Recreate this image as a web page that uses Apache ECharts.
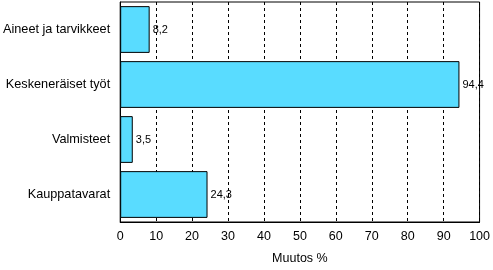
<!DOCTYPE html>
<html><head><meta charset="utf-8">
<script src="https://cdn.jsdelivr.net/npm/echarts@6/dist/echarts.min.js"></script>
<style>html,body{margin:0;padding:0;background:#fff}#c{width:493px;height:270px}</style>
</head><body><div id="c"></div>
<script>
const categories = ['Aineet ja tarvikkeet', 'Keskeneräiset työt', 'Valmisteet', 'Kauppatavarat'];
const values = [8.2, 94.4, 3.5, 24.3];
const xTicks = [0,10,20,30,40,50,60,70,80,90,100];
const chart = echarts.init(document.getElementById('c'));
const font = 'Liberation Sans, Arial, sans-serif';
chart.setOption({
  animation: false,
  grid: {left: 120, right: 12, top: 2, bottom: 43, show: true, borderColor: '#000', borderWidth: 1},
  xAxis: {
    type: 'value', min: xTicks[0], max: xTicks[xTicks.length-1], interval: 10,
    name: 'Muutos %', nameLocation: 'middle', nameGap: 30,
    nameTextStyle: {color: '#000', fontSize: 12.5, fontFamily: font},
    axisLine: {show: true, lineStyle: {color: '#000'}},
    axisTick: {show: false},
    axisLabel: {color: '#000', fontSize: 12.5, fontFamily: font, margin: 8},
    splitLine: {show: true, lineStyle: {color: '#000', type: [3,3], width: 1}}
  },
  yAxis: {
    type: 'category', data: categories, inverse: true,
    axisLine: {show: true, lineStyle: {color: '#000'}},
    axisTick: {show: false},
    axisLabel: {color: '#000', fontSize: 12.7, fontFamily: font, margin: 10},
    splitLine: {show: false}
  },
  series: [{
    type: 'bar', data: values, barCategoryGap: '15%',
    itemStyle: {color: '#59DCFF', borderColor: '#000', borderWidth: 1},
    label: {show: true, position: 'right', distance: 3, color: '#000', fontSize: 11, fontFamily: font,
      formatter: p => String(p.value).replace('.', ',')}
  }]
});
</script></body></html>
